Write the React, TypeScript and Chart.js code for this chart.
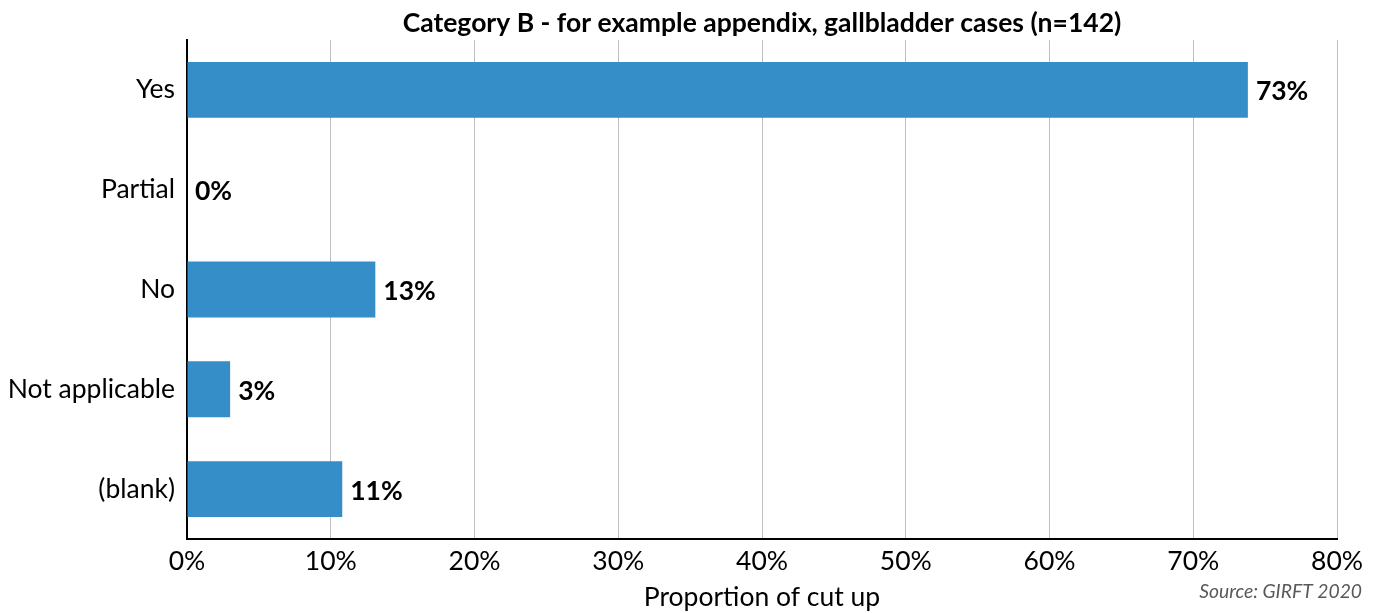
import React, { useEffect, useRef } from "react";
import { Chart, registerables } from "chart.js";

Chart.register(...registerables);

const categories = ["Yes", "Partial", "No", "Not applicable", "(blank)"];
const values = [73.8, 0, 13.1, 3.0, 10.8];
const valueLabels = ["73%", "0%", "13%", "3%", "11%"];
const xTicks = [0, 10, 20, 30, 40, 50, 60, 70, 80];
const titleText = "Category B - for example appendix, gallbladder cases (n=142)";
const xAxisTitle = "Proportion of cut up";
const sourceText = "Source: GIRFT 2020";

const FONT = "Lato, 'Open Sans', sans-serif";
const FS = 26.5;

export default function App() {
  const ref = useRef<HTMLCanvasElement | null>(null);

  useEffect(() => {
    if (!ref.current) return;
    const extras = {
      id: "extras",
      afterDatasetsDraw(chart: any) {
        const ctx = chart.ctx;
        const meta = chart.getDatasetMeta(0);
        ctx.save();
        ctx.fillStyle = "#000";
        ctx.font = `bold ${FS}px ${FONT}`;
        ctx.textAlign = "left";
        ctx.textBaseline = "middle";
        meta.data.forEach((bar: any, i: number) => {
          ctx.fillText(valueLabels[i], bar.x + 8, bar.y + 2);
        });
        ctx.restore();
      },
      afterDraw(chart: any) {
        const ctx = chart.ctx;
        const ca = chart.chartArea;
        ctx.save();
        ctx.fillStyle = "#000";
        ctx.font = `bold ${FS}px ${FONT}`;
        ctx.textAlign = "center";
        ctx.textBaseline = "middle";
        ctx.fillText(titleText, (ca.left + ca.right) / 2, 23);
        ctx.font = `italic 19.3px ${FONT}`;
        ctx.fillStyle = "#595959";
        ctx.textAlign = "right";
        ctx.fillText(sourceText, 1362, 592);
        ctx.restore();
      },
    };
    const chart = new Chart(ref.current, {
      type: "bar",
      data: {
        labels: categories,
        datasets: [
          {
            data: values,
            backgroundColor: "#368ec9",
            borderWidth: 0,
            categoryPercentage: 1,
            barPercentage: 0.56,
          },
        ],
      },
      options: {
        indexAxis: "y",
        animation: false,
        responsive: false,
        maintainAspectRatio: false,
        layout: { padding: { top: 40, right: 46, left: 0, bottom: 0 } },
        plugins: {
          legend: { display: false },
          title: { display: false },
          tooltip: { enabled: false },
        },
        scales: {
          x: {
            min: 0,
            max: 80,
            afterBuildTicks(scale: any) {
              scale.ticks = xTicks.map((v) => ({ value: v }));
            },
            afterFit(scale: any) {
              scale.height = 74;
            },
            grid: { color: "#bfbfbf", lineWidth: 1, drawTicks: false },
            border: { display: true, color: "#000", width: 2 },
            ticks: {
              padding: 7,
              color: "#000",
              font: { family: FONT, size: FS },
              callback: (v: any) => `${v}%`,
            },
            title: {
              display: true,
              text: xAxisTitle,
              color: "#000",
              font: { family: FONT, size: FS },
              padding: { top: 0, bottom: 0 },
            },
          },
          y: {
            afterFit(scale: any) {
              scale.width = 187;
            },
            grid: { display: false, drawTicks: false },
            border: { display: true, color: "#000", width: 2 },
            ticks: {
              padding: 12,
              color: "#000",
              font: { family: FONT, size: FS },
            },
          },
        },
      },
      plugins: [extras],
    });
    return () => chart.destroy();
  }, []);

  return (
    <div style={{ position: "absolute", left: 0, top: 0, width: 1383, height: 613, background: "#fff" }}>
      <canvas ref={ref} width={1383} height={613} style={{ width: 1383, height: 613 }} />
    </div>
  );
}
